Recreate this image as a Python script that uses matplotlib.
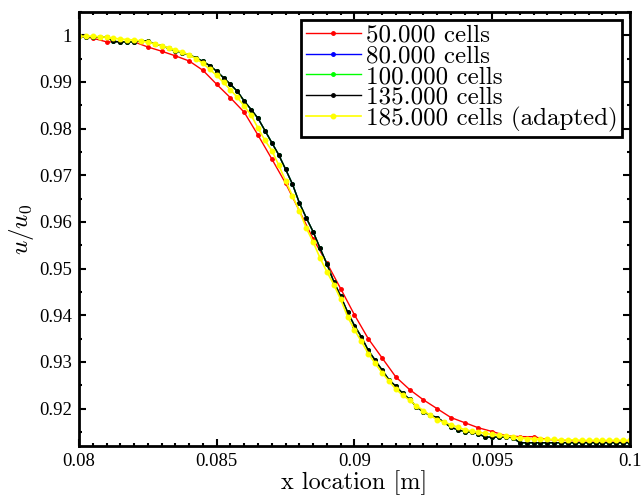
import numpy as np
import matplotlib
matplotlib.use("Agg")
import matplotlib.pyplot as plt
from matplotlib.ticker import MultipleLocator, FuncFormatter

plt.rcParams['mathtext.fontset'] = 'cm'

# coarse mesh (every 0.5 mm), fine meshes (every 0.25 mm)
x_coarse = np.linspace(0.08, 0.1, 41)
x_fine = np.linspace(0.08, 0.1, 81)

u_50 = [0.9998, 0.9994, 0.9986, 0.9986, 0.9986, 0.9975, 0.9966, 0.9956, 0.9945, 0.9925,
        0.9895, 0.9866, 0.9835, 0.9786, 0.9735, 0.9683, 0.9624, 0.9564, 0.9512, 0.9457,
        0.9401, 0.9350, 0.9309, 0.9268, 0.9241, 0.9219, 0.9200, 0.9181, 0.9170, 0.9159,
        0.9151, 0.9142, 0.9140, 0.9140, 0.9134, 0.9132, 0.9131, 0.9131, 0.9131, 0.9131,
        0.9131]

u_135 = [0.9998, 0.9997, 0.9997, 0.9996, 0.9996, 0.9987, 0.9986, 0.9986, 0.9986, 0.9988,
         0.9988, 0.9981, 0.9978, 0.9972, 0.9967, 0.9963, 0.9958, 0.9952, 0.9944, 0.9935,
         0.9923, 0.9909, 0.9895, 0.9880, 0.9859, 0.9841, 0.9822, 0.9796, 0.9770, 0.9744,
         0.9713, 0.9681, 0.9641, 0.9609, 0.9579, 0.9544, 0.9510, 0.9472, 0.9441, 0.9407,
         0.9378, 0.9354, 0.9325, 0.9304, 0.9283, 0.9262, 0.9248, 0.9233, 0.9220, 0.9204,
         0.9193, 0.9186, 0.9181, 0.9171, 0.9160, 0.9155, 0.9151, 0.9149, 0.9146, 0.9139,
         0.9139, 0.9139, 0.9139, 0.9138, 0.9127, 0.9127, 0.9127, 0.9127, 0.9127, 0.9127,
         0.9127, 0.9127, 0.9127, 0.9127, 0.9127, 0.9127, 0.9127, 0.9127, 0.9127, 0.9127,
         0.9127]

# 80k and 100k lie underneath the 135k curve
u_80 = list(u_135)
u_100 = list(u_135)

u_185 = [0.9998, 0.9998, 0.9998, 0.9997, 0.9996, 0.9994, 0.9992, 0.9991, 0.9990, 0.9988,
         0.9985, 0.9982, 0.9978, 0.9973, 0.9969, 0.9964, 0.9958, 0.9950, 0.9940, 0.9927,
         0.9914, 0.9899, 0.9883, 0.9867, 0.9848, 0.9829, 0.9801, 0.9775, 0.9753, 0.9722,
         0.9688, 0.9656, 0.9624, 0.9587, 0.9557, 0.9523, 0.9493, 0.9466, 0.9434, 0.9397,
         0.9369, 0.9344, 0.9318, 0.9297, 0.9277, 0.9259, 0.9242, 0.9229, 0.9218, 0.9206,
         0.9196, 0.9186, 0.9176, 0.9171, 0.9166, 0.9160, 0.9155, 0.9152, 0.9150, 0.9147,
         0.9145, 0.9143, 0.9142, 0.9140, 0.9137, 0.9136, 0.9135, 0.9134, 0.9134, 0.9134,
         0.9133, 0.9133, 0.9133, 0.9132, 0.9132, 0.9132, 0.9132, 0.9132, 0.9132, 0.9132,
         0.9132]

labels = ['50.000 cells', '80.000 cells', '100.000 cells', '135.000 cells',
          '185.000 cells (adapted)']

fig = plt.figure(figsize=(6.41, 5.0), dpi=100)
ax = fig.add_axes([0.1232, 0.108, 0.8596, 0.868])

ax.plot(x_coarse, u_50, '.-', color='#ff0000', lw=1, ms=5, label=labels[0])
ax.plot(x_fine, u_80, '.-', color='#0000ff', lw=1, ms=5, label=labels[1])
ax.plot(x_fine, u_100, '.-', color='#00ff00', lw=1, ms=5, label=labels[2])
ax.plot(x_fine, u_135, '.-', color='#000000', lw=1, ms=5, label=labels[3])
ax.plot(x_fine, u_185, '.-', color='#ffff00', lw=1.2, ms=6.5, label=labels[4])

ax.set_xlim(0.08, 0.1)
ax.set_ylim(0.912, 1.005)
ax.xaxis.set_major_locator(MultipleLocator(0.005))
ax.xaxis.set_minor_locator(MultipleLocator(0.0005))
ax.yaxis.set_major_locator(MultipleLocator(0.01))
ax.yaxis.set_minor_locator(MultipleLocator(0.005))
fmt = FuncFormatter(lambda v, p: '%g' % round(v, 4))
ax.xaxis.set_major_formatter(fmt)
ax.yaxis.set_major_formatter(fmt)

for s in ax.spines.values():
    s.set_linewidth(2)
ax.tick_params(which='both', direction='in', top=True, right=True, width=1.5)
ax.tick_params(which='major', length=5, labelsize=13.5, pad=5)
ax.tick_params(which='minor', length=2.5)
for t in ax.get_xticklabels() + ax.get_yticklabels():
    t.set_fontfamily('Liberation Serif')

ax.set_xlabel('x location [m]', fontsize=17.5, fontfamily='cmr10', labelpad=0)
ax.set_ylabel(r'$u/u_0$', fontsize=18, labelpad=2)

leg = ax.legend(loc='upper right', numpoints=1, fancybox=False, framealpha=1,
                edgecolor='black', borderaxespad=0.3, handlelength=2.2,
                handletextpad=0.2, labelspacing=-0.08, borderpad=0.2,
                prop={'family': 'cmr10', 'size': 18})
leg.get_frame().set_linewidth(2)

fig.savefig('out.png', dpi=100)
